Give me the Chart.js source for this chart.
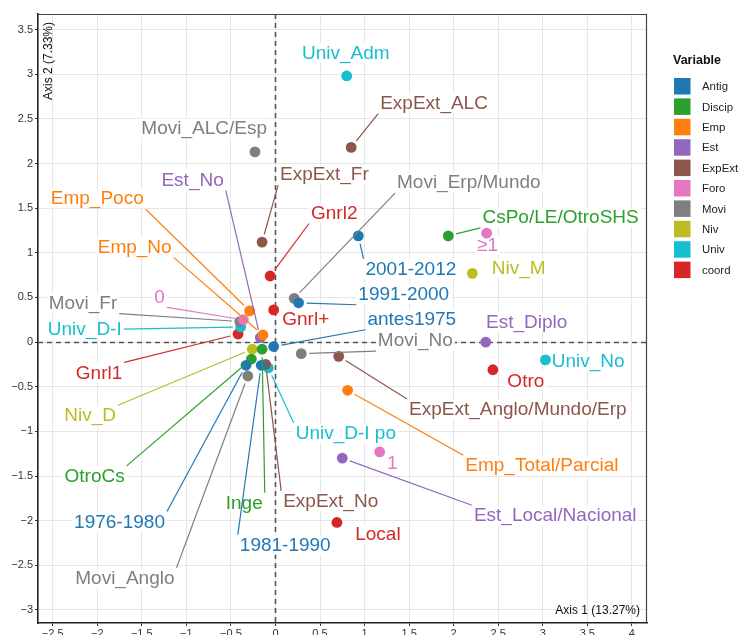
<!DOCTYPE html>
<html>
<head>
<meta charset="utf-8">
<script src="https://cdn.jsdelivr.net/npm/chart.js@4.4.1/dist/chart.umd.min.js"></script>
<style>
  body { margin: 0; background: #fff; }
  #wrap { width: 739px; height: 635px; position: relative; }
</style>
</head>
<body>
<div id="wrap"><canvas id="mca"></canvas></div>
<script>
// variables (legend) and their colours
const variables = ["Antig", "Discip", "Emp", "Est", "ExpExt", "Foro", "Movi", "Niv", "Univ", "coord"];
const varColors = ["#1f77b4", "#2ca02c", "#ff7f0e", "#9467bd", "#8c564b", "#e377c2", "#7f7f7f", "#bcbd22", "#17becf", "#d62728"];

// categories, one per point
const categories = [
  "antes1975", "1976-1980", "1981-1990", "1991-2000", "2001-2012",
  "CsPo/LE/OtroSHS", "Inge", "OtroCs",
  "Emp_No", "Emp_Poco", "Emp_Total/Parcial",
  "Est_Diplo", "Est_Local/Nacional", "Est_No",
  "ExpExt_ALC", "ExpExt_Anglo/Mundo/Erp", "ExpExt_Fr", "ExpExt_No",
  "0", "1", "\u22651",
  "Movi_ALC/Esp", "Movi_Anglo", "Movi_Erp/Mundo", "Movi_Fr", "Movi_No",
  "Niv_D", "Niv_M",
  "Univ_Adm", "Univ_D-I", "Univ_D-I po", "Univ_No",
  "Gnrl1", "Gnrl2", "Gnrl+", "Local", "Otro"
];
const variableOf = [
  0, 0, 0, 0, 0,
  1, 1, 1,
  2, 2, 2,
  3, 3, 3,
  4, 4, 4, 4,
  5, 5, 5,
  6, 6, 6, 6, 6,
  7, 7,
  8, 8, 8, 8,
  9, 9, 9, 9, 9
];
// coordinates on Axis 1 and Axis 2
const axis1 = [
  -0.02, -0.33, -0.16, 0.26, 0.93,
  1.94, -0.15, -0.27,
  -0.14, -0.29, 0.81,
  2.36, 0.75, -0.17,
  0.85, 0.71, -0.15, -0.11,
  -0.36, 1.17, 2.37,
  -0.23, -0.31, 0.21, -0.40, 0.29,
  -0.26, 2.21,
  0.80, -0.39, -0.08, 3.03,
  -0.42, -0.06, -0.02, 0.69, 2.44
];
const axis2 = [
  -0.05, -0.26, -0.26, 0.44, 1.19,
  1.19, -0.08, -0.19,
  0.08, 0.35, -0.54,
  0.00, -1.30, 0.05,
  2.18, -0.16, 1.12, -0.25,
  0.25, -1.23, 1.22,
  2.13, -0.38, 0.49, 0.23, -0.13,
  -0.08, 0.77,
  2.98, 0.17, -0.29, -0.20,
  0.09, 0.74, 0.36, -2.02, -0.31
];
// where the repelled labels sit (in axis units)
const labelX = [
  1.53, -1.75, 0.11, 1.44, 1.52,
  3.20, -0.35, -2.03,
  -1.58, -2.00, 2.99,
  2.82, 3.14, -0.93,
  1.78, 2.72, 0.55, 0.62,
  -1.30, 1.31, 2.38,
  -0.80, -1.69, 2.17, -2.16, 1.57,
  -2.08, 2.73,
  0.79, -2.14, 0.79, 3.51,
  -1.98, 0.66, 0.34, 1.15, 2.81
];
const labelY = [
  0.25, -2.02, -2.28, 0.53, 0.81,
  1.39, -1.81, -1.51,
  1.06, 1.60, -1.39,
  0.22, -1.95, 1.81,
  2.67, -0.76, 1.87, -1.79,
  0.50, -1.36, 1.08,
  2.39, -2.65, 1.78, 0.43, 0.01,
  -0.83, 0.82,
  3.23, 0.14, -1.03, -0.22,
  -0.35, 1.44, 0.25, -2.16, -0.44
];

const xTicks = [-2.5, -2, -1.5, -1, -0.5, 0, 0.5, 1, 1.5, 2, 2.5, 3, 3.5, 4];
const yTicks = [-3, -2.5, -2, -1.5, -1, -0.5, 0, 0.5, 1, 1.5, 2, 2.5, 3, 3.5];

const FONT = "'Liberation Sans', Arial, Helvetica, sans-serif";
Chart.defaults.font.family = FONT;

const datasets = variables.map((v, vi) => ({
  label: v,
  data: categories.map((c, i) => ({x: axis1[i], y: axis2[i], name: c, lx: labelX[i], ly: labelY[i], v: variableOf[i]}))
                  .filter(p => p.v === vi),
  backgroundColor: varColors[vi],
  borderWidth: 0,
  pointRadius: 5.4,
  pointHoverRadius: 5.4
}));

const fmt = v => String(v).replace('-', '\u2212');

// label boxes, computed once per draw
function labelItems(chart) {
  const {ctx, scales: {x, y}} = chart;
  ctx.save();
  ctx.font = '19px ' + FONT;
  const items = [];
  chart.data.datasets.forEach(ds => {
    ds.data.forEach(p => {
      const px = x.getPixelForValue(p.x), py = y.getPixelForValue(p.y);
      const cx = x.getPixelForValue(p.lx), cy = y.getPixelForValue(p.ly);
      const w = ctx.measureText(p.name).width;
      const box = {l: cx - w / 2 - 2, r: cx + w / 2 + 2, t: cy - 11, b: cy + 10};
      items.push({px, py, cx, cy, box, name: p.name, color: ds.backgroundColor});
    });
  });
  ctx.restore();
  return items;
}

const repel = {
  id: 'repel',
  beforeDatasetsDraw(chart) {
    const {ctx, chartArea: a, scales: {x, y}} = chart;
    ctx.save();
    ctx.strokeStyle = '#555';
    ctx.lineWidth = 1.6;
    ctx.setLineDash([5, 4]);
    const x0 = Math.round(x.getPixelForValue(0)) + 0.5;
    const y0 = Math.round(y.getPixelForValue(0)) + 0.5;
    ctx.beginPath(); ctx.moveTo(x0, a.top); ctx.lineTo(x0, a.bottom); ctx.stroke();
    ctx.beginPath(); ctx.moveTo(a.left, y0); ctx.lineTo(a.right, y0); ctx.stroke();
    ctx.setLineDash([]);
    // white label backgrounds hide grid and zero lines
    chart.$labels = labelItems(chart);
    ctx.fillStyle = '#fff';
    chart.$labels.forEach(it => {
      ctx.fillRect(it.box.l, it.box.t + 1, it.box.r - it.box.l, it.box.b - it.box.t - 2);
    });
    ctx.restore();
  },
  afterDatasetsDraw(chart) {
    const {ctx} = chart;
    const items = chart.$labels || labelItems(chart);
    ctx.save();
    // segments
    ctx.lineWidth = 1.2;
    items.forEach(it => {
      const {box} = it;
      const xs = [box.l, (box.l + box.r) / 2, box.r], ys = [box.t, (box.t + box.b) / 2, box.b];
      let best = null, bd = Infinity;
      xs.forEach(ax => ys.forEach(ay => {
        const d = Math.hypot(ax - it.px, ay - it.py);
        if (d < bd) { bd = d; best = [ax, ay]; }
      }));
      const shorten = 8;
      if (bd - shorten < 15) return;
      const ux = (best[0] - it.px) / bd, uy = (best[1] - it.py) / bd;
      ctx.strokeStyle = it.color;
      ctx.beginPath();
      ctx.moveTo(it.px + ux * shorten, it.py + uy * shorten);
      ctx.lineTo(best[0], best[1]);
      ctx.stroke();
    });
    ctx.font = '19px ' + FONT;
    ctx.textAlign = 'center';
    ctx.textBaseline = 'middle';
    items.forEach(it => {
      ctx.fillStyle = it.color;
      ctx.fillText(it.name, it.cx, it.cy);
    });
    ctx.restore();
  },
  afterDraw(chart) {
    const {ctx, chartArea: a} = chart;
    ctx.save();
    // panel border (top / right)
    ctx.strokeStyle = '#444';
    ctx.lineWidth = 1.2;
    ctx.beginPath();
    ctx.moveTo(a.left, a.top + 0.5); ctx.lineTo(a.right - 0.5, a.top + 0.5); ctx.lineTo(a.right - 0.5, a.bottom);
    ctx.stroke();
    // axis titles
    ctx.fillStyle = '#111';
    ctx.font = '12px ' + FONT;
    ctx.textAlign = 'right';
    ctx.textBaseline = 'middle';
    ctx.fillText('Axis 1 (13.27%)', a.right - 7, a.bottom - 12);
    ctx.translate(a.left + 11, a.top + 8);
    ctx.rotate(-Math.PI / 2);
    ctx.fillText('Axis 2 (7.33%)', 0, 0);
    ctx.restore();
    // legend
    ctx.save();
    ctx.fillStyle = '#111';
    ctx.font = 'bold 12.5px ' + FONT;
    ctx.textAlign = 'left';
    ctx.textBaseline = 'middle';
    ctx.fillText('Variable', 673, 61);
    ctx.font = '11.4px ' + FONT;
    chart.data.datasets.forEach((ds, i) => {
      const top = 78 + i * 20.4;
      ctx.fillStyle = ds.backgroundColor;
      ctx.fillRect(674, top, 16.5, 16.5);
      ctx.fillStyle = '#222';
      ctx.fillText(ds.label, 702, top + 9);
    });
    ctx.restore();
  }
};

new Chart(document.getElementById('mca'), {
  type: 'scatter',
  data: {datasets},
  plugins: [repel],
  options: {
    responsive: true,
    maintainAspectRatio: false,
    animation: false,
    events: [],
    layout: {padding: {top: 14, right: 92, left: 0, bottom: 0}},
    plugins: {legend: {display: false}, tooltip: {enabled: false}},
    scales: {
      x: {
        type: 'linear',
        min: -2.665, max: 4.17,
        afterBuildTicks: s => { s.ticks = xTicks.map(v => ({value: v})); },
        afterFit: s => { s.height = 12; },
        grid: {color: '#e6e6e6', lineWidth: 1, tickLength: 3, tickColor: '#333'},
        border: {color: '#222', width: 1.6},
        ticks: {autoSkip: false, maxRotation: 0, padding: 1, color: '#333', font: {size: 11}, callback: fmt}
      },
      y: {
        type: 'linear',
        min: -3.146, max: 3.674,
        afterBuildTicks: s => { s.ticks = yTicks.map(v => ({value: v})); },
        afterFit: s => { s.width = 38; },
        grid: {color: '#e6e6e6', lineWidth: 1, tickLength: 3, tickColor: '#333'},
        border: {color: '#222', width: 1.6},
        ticks: {autoSkip: false, padding: 2, color: '#333', font: {size: 11}, callback: fmt}
      }
    }
  }
});
</script>
</body>
</html>
